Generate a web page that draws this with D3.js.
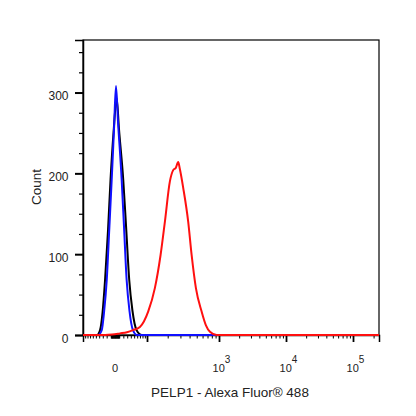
<!DOCTYPE html>
<html><head><meta charset="utf-8">
<script src="https://cdn.jsdelivr.net/npm/d3@7"></script>
<style>body{margin:0;background:#fff}svg{display:block;font-family:Arial,"Liberation Sans",sans-serif}</style>
</head><body><svg id="c" width="416" height="416"></svg>
<script>
// ---- data (fluorescence intensity, count) ----
const countMajor = [0, 100, 200, 300];
const countMinor = [25, 50, 75, 125, 150, 175, 225, 250, 275, 325, 350];
const xMajor = [100, 1000, 10000, 100000];
const xMinor = [-90,-80,-70,-60,-50,-40,-30,-20,-10,-9,-8,-7,-6,-5,-4,-3,-2,-1,0,
  1,2,3,4,5,6,7,8,9,10,20,30,40,50,60,70,80,90,
  200,300,400,500,600,700,800,900,
  2000,3000,4000,5000,6000,7000,8000,9000,
  20000,30000,40000,50000,60000,70000,80000,90000,200000];
const xLabelValues = [0, 1000, 10000, 100000];
const xLabelBase = ["0", "10", "10", "10"];
const xLabelExp = ["", "3", "4", "5"];
const xTitle = "PELP1 - Alexa Fluor® 488";
const yTitle = "Count";

const blackSeries = [[-100,0],[-46.3,0],[-37.5,6],[-30.6,28],[-24.1,68],[-16.6,130],[-10.6,192],[-3.5,250],[4.0,293],[9.4,255],[19.8,192],[27.5,130],[35.5,68],[44.8,30],[58.1,6],[77.6,0],[240000,0]];
const blueSeries = [[-100,0],[-43.3,0],[-32.8,6],[-26.7,28],[-19.8,68],[-13.7,130],[-7.8,192],[-2.3,255],[2.3,308],[7.0,265],[15.9,192],[21.6,135],[28.5,68],[36.1,30],[46.3,6],[59.1,0],[240000,0]];
const redSeries = [[-100,0],[-24,0],[-7.0,0.5],[11.8,2],[29.3,3.5],[46.3,6],[69.9,10],[104.2,29],[131.2,58],[158.7,99],[182.6,140],[214.6,190],[238.5,204],[259.9,207],[279.6,214],[295.1,205],[327.5,182],[383.2,140],[426.3,99],[487.5,58],[582.7,29],[666.4,12],[754.7,4],[929.6,0],[240000,0]];

const seriesList = [
  {data: blackSeries, color: "#000000"},
  {data: blueSeries, color: "#1010ff"},
  {data: redSeries, color: "#ff1010"}
];

// ---- scales ----
const L = 83, R = 379, TOP = 40, BOT = 335;
const B = 56;
const T = v => Math.asinh(v / B);
const xBreaks = [-100, 0, 100, 1000, 10000, 100000, 240000];
const xT = d3.scaleLinear().domain(xBreaks.map(T))
  .range([L, 115, 147, 219, 286, 353, R]);
const x = v => xT(T(v));
const y = d3.scaleLinear().domain([0, 365]).range([BOT, TOP]);

const svg = d3.select("#c");

// frame
svg.append("rect").attr("x", L).attr("y", TOP).attr("width", R - L).attr("height", BOT - TOP)
  .attr("fill", "none").attr("stroke", "#000").attr("stroke-width", 1.2);

// y axis
const gy = svg.append("g").attr("transform", `translate(${L},0)`);
gy.call(d3.axisLeft(y).tickValues(countMinor).tickSize(4).tickFormat(""));
gy.call(g => g.select(".domain").remove());
gy.selectAll(".tick line").attr("stroke-width", 1.2);
const gy2 = svg.append("g").attr("transform", `translate(${L},0)`);
gy2.call(d3.axisLeft(y).tickValues(countMajor).tickSize(8).tickFormat(""));
gy2.selectAll(".tick line").attr("stroke-width", 2);
gy2.select(".domain").attr("stroke-width", 1.5);

svg.append("g").selectAll("text").data(countMajor).join("text")
  .attr("x", 68.5).attr("y", d => y(d) + 3.5)
  .attr("text-anchor", "end").attr("dominant-baseline", "central")
  .attr("font-size", 12).attr("fill", "#222").text(d => d);

// x axis
const gx = svg.append("g").attr("transform", `translate(0,${BOT})`);
gx.call(d3.axisBottom(xT).tickValues(xMinor.map(T)).tickSize(3.5).tickFormat(""));
gx.select(".domain").remove();
gx.selectAll(".tick line").attr("stroke-width", 1);
const gx2 = svg.append("g").attr("transform", `translate(0,${BOT})`);
gx2.call(d3.axisBottom(xT).tickValues(xMajor.map(T)).tickSize(7).tickFormat(""));
gx2.selectAll(".tick line").attr("stroke-width", 1.8);
gx2.select(".domain").attr("stroke-width", 1.5);

const xl = svg.append("g").selectAll("text").data(xLabelValues).join("text")
  .attr("x", (d, i) => x(d) + (xLabelExp[i] ? 2.5 : 0)).attr("y", 372)
  .attr("text-anchor", "middle").attr("font-size", 11).attr("fill", "#222");
xl.append("tspan").text((d, i) => xLabelBase[i]);
xl.append("tspan").attr("dy", -9).attr("font-size", 10).text((d, i) => xLabelExp[i]);

// titles
svg.append("text").attr("x", 230).attr("y", 397).attr("text-anchor", "middle")
  .attr("font-size", 13.5).attr("fill", "#222").text(xTitle);
svg.append("text").attr("transform", "translate(41,187) rotate(-90)").attr("text-anchor", "middle")
  .attr("font-size", 13.5).attr("fill", "#222").text(yTitle);

// curves
const line = d3.line().x(d => x(d[0])).y(d => y(d[1])).curve(d3.curveMonotoneX);
svg.append("g").selectAll("path").data(seriesList).join("path")
  .attr("d", s => line(s.data)).attr("fill", "none")
  .attr("stroke", s => s.color).attr("stroke-width", 2).attr("stroke-linejoin", "round");
</script></body></html>
